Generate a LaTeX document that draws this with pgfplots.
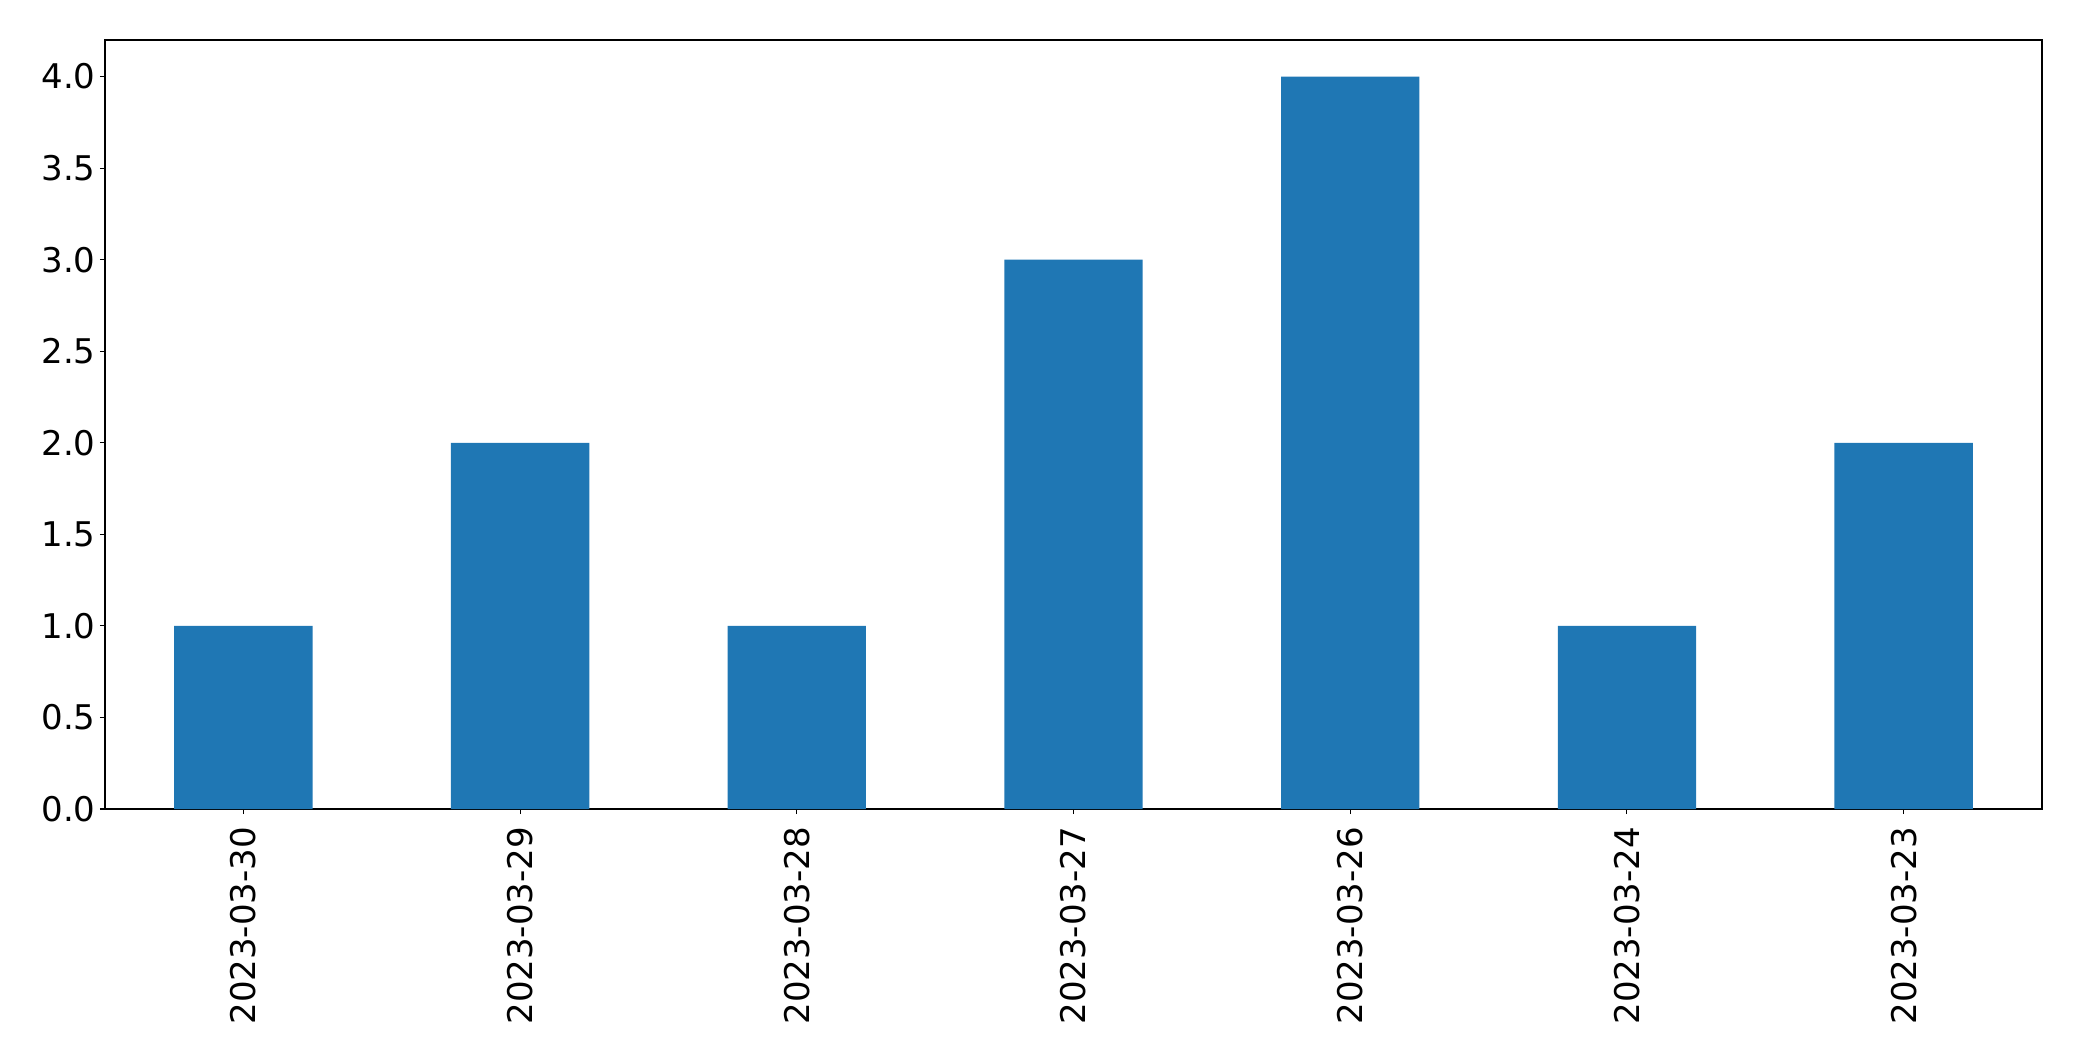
\documentclass[border=0pt]{standalone}
\usepackage{fontspec}
\setmainfont{DejaVu Sans}
\usepackage{pgfplots}
\pgfplotsset{compat=1.18}
\definecolor{barblue}{HTML}{1F77B4}
\begin{document}
\fontsize{17pt}{20pt}\selectfont
\begin{tikzpicture}[x=1pt,y=1pt]
\path[use as bounding box] (0,0) rectangle (1041,530.5);
\begin{axis}[
 at={(52.5pt,126pt)}, anchor=south west,
 scale only axis, width=968.5pt, height=384.5pt,
 xmin=-0.5, xmax=6.5, ymin=0, ymax=4.2,
 axis line style={line width=0.55pt},
 xtick={0,1,2,3,4,5,6},
 xticklabels={2023-03-30,2023-03-29,2023-03-28,2023-03-27,2023-03-26,2023-03-24,2023-03-23},
 xticklabel style={rotate=90, anchor=east, inner sep=6.3pt},
 ytick={0,0.5,1,1.5,2,2.5,3,3.5,4},
 yticklabel style={inner sep=2pt, /pgf/number format/fixed, /pgf/number format/fixed zerofill, /pgf/number format/precision=1},
 /pgf/number format/assume math mode=true,
 tick align=outside, tick pos=left,
 major tick length=2.5pt,
 tick style={black, line width=0.55pt},
 tick label style={font=\fontsize{17pt}{20pt}\selectfont},
]
\addplot[ybar, bar width=0.5, fill=barblue, draw=none] coordinates {(0,1) (1,2) (2,1) (3,3) (4,4) (5,1) (6,2)};
\end{axis}
\end{tikzpicture}
\end{document}
